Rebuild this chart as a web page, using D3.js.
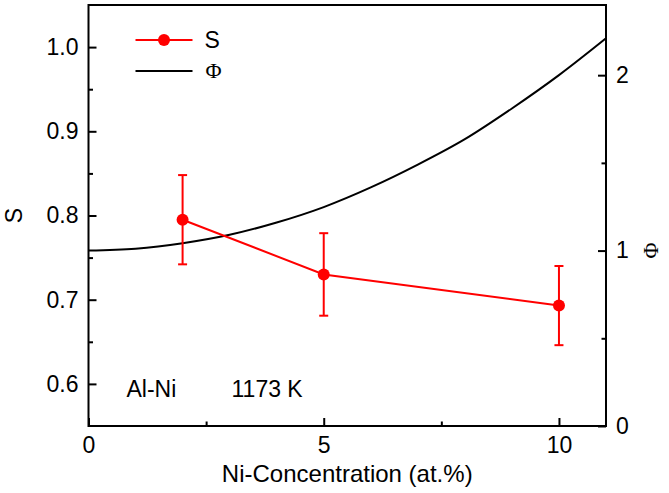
<!DOCTYPE html>
<html>
<head>
<meta charset="utf-8">
<script src="https://cdnjs.cloudflare.com/ajax/libs/d3/7.8.5/d3.min.js"></script>
<style>
    body { margin: 0; background: #fff; }
    #chart-area text { font-family: Arial, "Liberation Sans", sans-serif; }
</style>
</head>
<body>
<div id="chart-area"></div>
<script>

// S measurements at each Ni concentration (with error bars)
let conc = [2, 5, 10];
let sValues = [0.795, 0.730, 0.693];
let sErrors = [0.053, 0.049, 0.047];

// Phi curve
let phiConc = [0, 1, 2, 3, 4, 5, 6, 7, 8, 9, 10, 11];
let phiValues = [1.0, 1.011, 1.042, 1.09, 1.16, 1.248, 1.36, 1.49, 1.635, 1.81, 2.0, 2.21];

// tick labels
let xTicks = [0, 5, 10];
let xMinor = [2.5, 7.5];
let sTicks = [0.6, 0.7, 0.8, 0.9, 1.0];
let sMinor = [0.65, 0.75, 0.85, 0.95];
let phiTicks = [0, 1, 2];
let phiMinor = [0.5, 1.5];

let margin = { top: 5, right: 63, bottom: 67, left: 88.5 };
let width = 669 - margin.left - margin.right,
    height = 493 - margin.top - margin.bottom;

let svg = d3.select("#chart-area").append("svg")
    .attr("width", 669)
    .attr("height", 493)
    .append("g")
    .attr("transform", "translate(" + margin.left + "," + margin.top + ")");

// scales
let x = d3.scaleLinear().domain([0, 11]).range([0, width]);
let yS = d3.scaleLinear().domain([0.55, 1.05]).range([height, 0]);
let yPhi = d3.scaleLinear().domain([0, 2.4]).range([height, 0]);

// axes (ticks pointing inward)
function styleAxis(g) {
    g.select(".domain").remove();
    g.selectAll("line").attr("stroke", "#000").attr("stroke-width", 2);
    g.selectAll("text").attr("fill", "#000").style("font-size", "23px");
}

svg.append("g")
    .attr("transform", "translate(0," + height + ")")
    .call(d3.axisBottom(x).tickValues(xTicks).tickSize(-8).tickPadding(11).tickFormat(d3.format("d")))
    .call(styleAxis);
svg.append("g")
    .attr("transform", "translate(0," + height + ")")
    .call(d3.axisBottom(x).tickValues(xMinor).tickSize(-4.5).tickFormat(""))
    .call(styleAxis);

svg.append("g")
    .call(d3.axisLeft(yS).tickValues(sTicks).tickSize(-8).tickPadding(10).tickFormat(d3.format(".1f")))
    .call(styleAxis);
svg.append("g")
    .call(d3.axisLeft(yS).tickValues(sMinor).tickSize(-4.5).tickFormat(""))
    .call(styleAxis);

svg.append("g")
    .attr("transform", "translate(" + width + ",0)")
    .call(d3.axisRight(yPhi).tickValues(phiTicks).tickSize(-8).tickPadding(10).tickFormat(d3.format("d")))
    .call(styleAxis);
svg.append("g")
    .attr("transform", "translate(" + width + ",0)")
    .call(d3.axisRight(yPhi).tickValues(phiMinor).tickSize(-4.5).tickFormat(""))
    .call(styleAxis);

// frame
svg.append("rect")
    .attr("width", width)
    .attr("height", height)
    .attr("fill", "none")
    .attr("stroke", "#000")
    .attr("stroke-width", 2);

// Phi line
let phiData = phiConc.map((c, i) => ({ c: c, v: phiValues[i] }));
svg.append("path")
    .datum(phiData)
    .attr("fill", "none")
    .attr("stroke", "#000")
    .attr("stroke-width", 2)
    .attr("d", d3.line().x(d => x(d.c)).y(d => yPhi(d.v)).curve(d3.curveMonotoneX));

// S line + error bars + markers
let sData = conc.map((c, i) => ({ c: c, v: sValues[i], e: sErrors[i] }));
svg.append("path")
    .datum(sData)
    .attr("fill", "none")
    .attr("stroke", "#ff0000")
    .attr("stroke-width", 2)
    .attr("d", d3.line().x(d => x(d.c)).y(d => yS(d.v)));

let err = svg.selectAll(".err")
    .data(sData)
    .enter().append("g")
    .attr("class", "err")
    .attr("stroke", "#ff0000")
    .attr("stroke-width", 2);
err.append("line")
    .attr("x1", d => x(d.c)).attr("x2", d => x(d.c))
    .attr("y1", d => yS(d.v - d.e)).attr("y2", d => yS(d.v + d.e));
err.append("line")
    .attr("x1", d => x(d.c) - 4.5).attr("x2", d => x(d.c) + 4.5)
    .attr("y1", d => yS(d.v + d.e)).attr("y2", d => yS(d.v + d.e));
err.append("line")
    .attr("x1", d => x(d.c) - 4.5).attr("x2", d => x(d.c) + 4.5)
    .attr("y1", d => yS(d.v - d.e)).attr("y2", d => yS(d.v - d.e));

svg.selectAll(".dot")
    .data(sData)
    .enter().append("circle")
    .attr("class", "dot")
    .attr("cx", d => x(d.c))
    .attr("cy", d => yS(d.v))
    .attr("r", 6)
    .attr("fill", "#ff0000");

// axis titles
svg.append("text")
    .attr("x", width / 2)
    .attr("y", height + 56)
    .attr("text-anchor", "middle")
    .style("font-size", "24px")
    .text("Ni-Concentration (at.%)");

svg.append("text")
    .attr("transform", "translate(" + (-67) + "," + (height / 2) + ") rotate(-90)")
    .attr("text-anchor", "middle")
    .style("font-size", "23px")
    .text("S");

svg.append("text")
    .attr("transform", "translate(" + (width + 38) + "," + (height / 2 + 35) + ") rotate(90)")
    .attr("text-anchor", "middle")
    .style("font-size", "22px")
    .style("font-family", "'Liberation Serif', serif")
    .text("Φ");

// legend
let legend = svg.append("g").attr("transform", "translate(47,35)");
legend.append("line").attr("x1", 0).attr("x2", 57).attr("y1", 0).attr("y2", 0)
    .attr("stroke", "#ff0000").attr("stroke-width", 2);
legend.append("circle").attr("cx", 28.5).attr("cy", 0).attr("r", 6).attr("fill", "#ff0000");
legend.append("text").attr("x", 69).attr("y", 8).style("font-size", "23px").text("S");
legend.append("line").attr("x1", 0).attr("x2", 57).attr("y1", 31).attr("y2", 31)
    .attr("stroke", "#000").attr("stroke-width", 2);
legend.append("text").attr("x", 70).attr("y", 38).style("font-size", "22px")
    .style("font-family", "'Liberation Serif', serif").text("Φ");

// annotations
svg.append("text").attr("x", 38).attr("y", 392).style("font-size", "23px").text("Al-Ni");
svg.append("text").attr("x", 143).attr("y", 392).style("font-size", "23px").text("1173 K");

</script>
</body>
</html>
